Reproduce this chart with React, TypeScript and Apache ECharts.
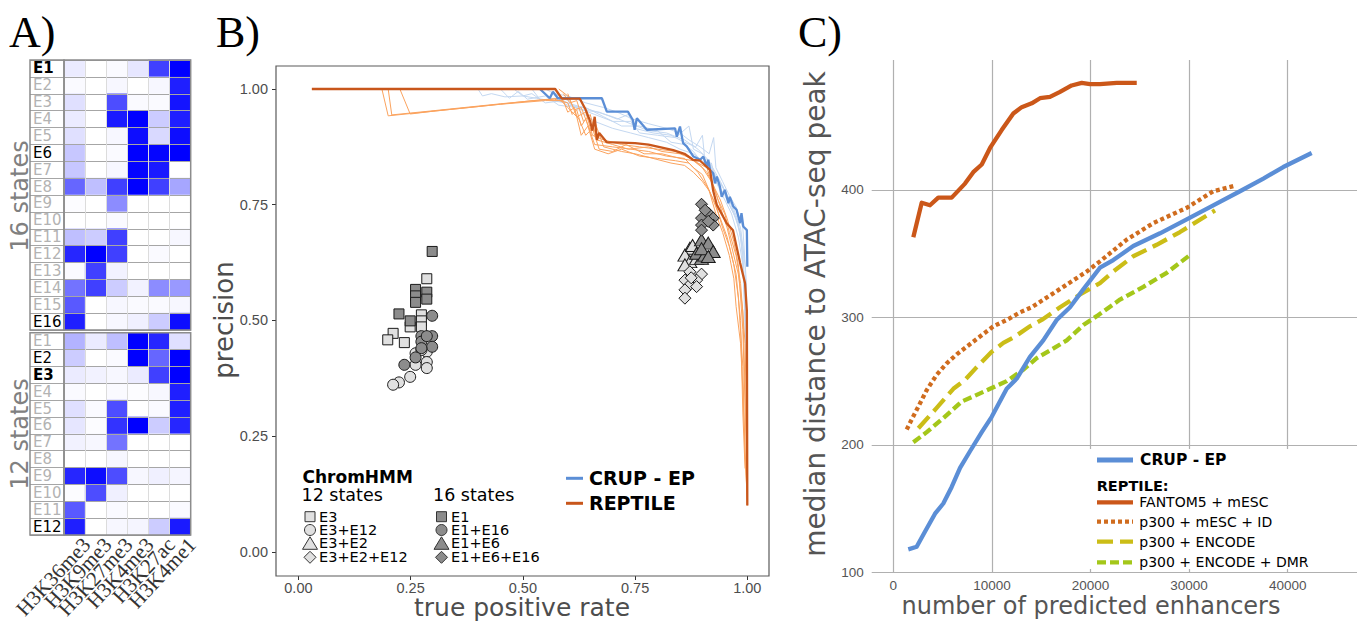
import React, { useEffect, useRef } from "react";
import * as echarts from "echarts";

// ---------------- Panel A data ----------------
const marks = ["H3K36me3", "H3K9me3", "H3K27me3", "H3K4me3", "H3K27ac", "H3K4me1"];
const states16 = ["E1","E2","E3","E4","E5","E6","E7","E8","E9","E10","E11","E12","E13","E14","E15","E16"];
const states12 = ["E1","E2","E3","E4","E5","E6","E7","E8","E9","E10","E11","E12"];
const emission16 = [
  [0.08, 0.0, 0.02, 0.1, 0.75, 1.0],
  [0.02, 0.0, 0.03, 0.0, 0.03, 0.88],
  [0.12, 0.0, 0.7, 0.02, 0.02, 0.92],
  [0.08, 0.0, 0.9, 1.0, 0.2, 0.88],
  [0.12, 0.0, 0.03, 0.95, 0.15, 0.95],
  [0.22, 0.0, 0.02, 1.0, 0.98, 1.0],
  [0.22, 0.0, 0.03, 0.98, 0.9, 0.0],
  [0.6, 0.25, 0.75, 1.0, 0.75, 0.35],
  [0.01, 0.0, 0.45, 0.0, 0.0, 0.0],
  [0.0, 0.0, 0.02, 0.0, 0.0, 0.0],
  [0.25, 0.2, 0.75, 0.0, 0.0, 0.03],
  [0.85, 1.0, 0.75, 0.0, 0.02, 0.0],
  [0.02, 0.75, 0.05, 0.0, 0.0, 0.0],
  [0.55, 0.75, 0.2, 0.05, 0.45, 0.4],
  [0.65, 0.0, 0.03, 0.02, 0.02, 0.03],
  [0.88, 0.0, 0.03, 0.06, 0.2, 0.95],
];
const emission12 = [
  [0.3, 0.08, 0.25, 1.0, 0.85, 0.12],
  [0.2, 0.0, 0.02, 1.0, 0.6, 1.0],
  [0.08, 0.05, 0.03, 0.08, 0.75, 1.0],
  [0.02, 0.0, 0.02, 0.01, 0.03, 0.88],
  [0.12, 0.02, 0.7, 0.0, 0.02, 0.88],
  [0.1, 0.01, 0.8, 1.0, 0.2, 0.85],
  [0.05, 0.03, 0.55, 0.0, 0.0, 0.0],
  [0.0, 0.0, 0.03, 0.0, 0.0, 0.0],
  [0.85, 0.95, 0.7, 0.03, 0.06, 0.04],
  [0.01, 0.7, 0.06, 0.0, 0.0, 0.0],
  [0.65, 0.0, 0.02, 0.0, 0.0, 0.02],
  [0.88, 0.0, 0.03, 0.04, 0.2, 0.9],
];
const emph16: Record<string, string> = { E1: "b", E6: "k", E16: "k" };
const emph12: Record<string, string> = { E3: "b", E2: "k", E12: "k" };

// ---------------- Panel B data ----------------
const bTicks = [0, 0.25, 0.5, 0.75, 1];
const crupMain = [[0.538,1.0],[0.56,0.98],[0.567,0.994],[0.578,0.98],[0.676,0.98],[0.687,0.951],[0.734,0.951],[0.745,0.933],[0.749,0.912],[0.754,0.937],[0.776,0.912],[0.839,0.915],[0.843,0.897],[0.85,0.919],[0.857,0.883],[0.865,0.876],[0.88,0.854],[0.895,0.847],[0.902,0.854],[0.91,0.832],[0.913,0.847],[0.917,0.825],[0.924,0.818],[0.928,0.796],[0.932,0.811],[0.939,0.789],[0.943,0.767],[0.95,0.782],[0.958,0.753],[0.961,0.767],[0.969,0.746],[0.976,0.739],[0.984,0.71],[0.987,0.732],[0.991,0.703],[0.999,0.695],[1.0,0.616]];
const reptileMain = [[0.03,1.0],[0.572,1.0],[0.587,0.979],[0.627,0.979],[0.64,0.955],[0.65,0.93],[0.655,0.91],[0.66,0.94],[0.665,0.89],[0.67,0.905],[0.687,0.885],[0.75,0.883],[0.78,0.88],[0.835,0.868],[0.86,0.86],[0.879,0.847],[0.895,0.845],[0.917,0.825],[0.924,0.78],[0.932,0.75],[0.954,0.71],[0.968,0.695],[0.984,0.624],[0.995,0.58],[0.999,0.52],[1.0,0.1]];
const crupRuns = [
  [[0.40,1.0],[0.41,0.985],[0.43,0.99],[0.46,0.983],[0.50,0.985],[0.53,0.98],[0.56,0.975],[0.60,0.97],[0.65,0.955],[0.70,0.94],[0.74,0.925],[0.78,0.91],[0.82,0.905],[0.86,0.89],[0.89,0.87],[0.91,0.85],[0.93,0.81],[0.95,0.78],[0.97,0.74],[0.985,0.70],[0.995,0.62],[0.998,0.40],[1.0,0.22]],
  [[0.45,1.0],[0.47,0.98],[0.49,0.995],[0.51,0.978],[0.55,0.985],[0.58,0.965],[0.62,0.96],[0.66,0.945],[0.70,0.93],[0.74,0.93],[0.76,0.905],[0.80,0.90],[0.84,0.895],[0.87,0.92],[0.88,0.87],[0.90,0.86],[0.92,0.835],[0.94,0.80],[0.96,0.76],[0.975,0.72],[0.99,0.66],[1.0,0.30]],
  [[0.48,1.0],[0.50,0.985],[0.52,0.99],[0.55,0.97],[0.59,0.975],[0.63,0.955],[0.67,0.95],[0.71,0.935],[0.735,0.945],[0.75,0.915],[0.79,0.905],[0.83,0.90],[0.86,0.885],[0.885,0.875],[0.90,0.90],[0.905,0.85],[0.925,0.82],[0.945,0.79],[0.96,0.75],[0.98,0.71],[0.99,0.64],[0.997,0.50],[1.0,0.26]],
  [[0.52,1.0],[0.54,0.975],[0.57,0.98],[0.60,0.965],[0.64,0.96],[0.68,0.94],[0.72,0.92],[0.76,0.92],[0.80,0.91],[0.83,0.885],[0.86,0.88],[0.88,0.865],[0.90,0.84],[0.92,0.84],[0.93,0.80],[0.95,0.77],[0.97,0.73],[0.985,0.69],[0.995,0.55],[1.0,0.24]],
  [[0.55,1.0],[0.57,0.99],[0.60,0.985],[0.64,0.97],[0.68,0.96],[0.71,0.95],[0.745,0.935],[0.78,0.925],[0.82,0.915],[0.85,0.905],[0.87,0.89],[0.895,0.875],[0.915,0.86],[0.925,0.895],[0.93,0.83],[0.945,0.80],[0.96,0.77],[0.975,0.745],[0.99,0.70],[0.998,0.58],[1.0,0.35]],
  [[0.57,0.99],[0.60,0.975],[0.63,0.95],[0.66,0.93],[0.70,0.915],[0.74,0.905],[0.78,0.895],[0.82,0.885],[0.85,0.87],[0.88,0.86],[0.90,0.845],[0.92,0.82],[0.935,0.79],[0.95,0.76],[0.965,0.73],[0.98,0.68],[0.99,0.62],[1.0,0.40]],
];
const reptileRuns = [
  [[0.03,1.0],[0.186,1.0],[0.20,0.942],[0.30,0.952],[0.40,0.962],[0.523,0.975],[0.57,0.978],[0.60,0.97],[0.61,0.945],[0.62,0.955],[0.63,0.92],[0.64,0.935],[0.66,0.88],[0.70,0.875],[0.74,0.87],[0.78,0.865],[0.82,0.855],[0.86,0.85],[0.88,0.83],[0.90,0.815],[0.92,0.77],[0.94,0.72],[0.955,0.68],[0.97,0.62],[0.98,0.55],[0.99,0.40],[0.995,0.20],[1.0,0.12]],
  [[0.226,1.0],[0.249,0.946],[0.30,0.952],[0.45,0.967],[0.55,0.975],[0.59,0.975],[0.60,0.95],[0.615,0.96],[0.63,0.90],[0.645,0.92],[0.66,0.87],[0.69,0.86],[0.72,0.87],[0.76,0.855],[0.80,0.85],[0.84,0.845],[0.87,0.84],[0.89,0.82],[0.91,0.79],[0.93,0.75],[0.945,0.70],[0.96,0.66],[0.975,0.60],[0.985,0.50],[0.99,0.30],[0.995,0.18]],
  [[0.20,1.0],[0.208,0.944],[0.30,0.953],[0.45,0.968],[0.58,0.98],[0.60,0.96],[0.625,0.935],[0.64,0.90],[0.655,0.915],[0.67,0.87],[0.70,0.865],[0.73,0.88],[0.77,0.86],[0.81,0.86],[0.85,0.85],[0.88,0.845],[0.90,0.83],[0.92,0.80],[0.94,0.76],[0.955,0.72],[0.97,0.67],[0.98,0.62],[0.99,0.48],[0.997,0.25],[1.0,0.15]],
  [[0.58,1.0],[0.60,0.985],[0.615,0.955],[0.63,0.96],[0.65,0.91],[0.66,0.93],[0.68,0.875],[0.72,0.865],[0.75,0.86],[0.79,0.85],[0.83,0.84],[0.86,0.835],[0.88,0.82],[0.90,0.80],[0.915,0.78],[0.93,0.73],[0.945,0.69],[0.96,0.64],[0.97,0.59],[0.975,0.53],[0.985,0.45],[0.99,0.35],[1.0,0.10]],
  [[0.59,0.99],[0.605,0.97],[0.62,0.975],[0.635,0.93],[0.65,0.945],[0.665,0.89],[0.70,0.88],[0.735,0.87],[0.78,0.875],[0.81,0.865],[0.85,0.86],[0.875,0.85],[0.895,0.835],[0.91,0.82],[0.925,0.79],[0.94,0.745],[0.955,0.70],[0.965,0.66],[0.98,0.60],[0.99,0.52],[0.995,0.35],[1.0,0.13]],
  [[0.60,0.99],[0.62,0.94],[0.64,0.95],[0.655,0.90],[0.68,0.89],[0.72,0.88],[0.76,0.875],[0.80,0.87],[0.84,0.865],[0.87,0.855],[0.89,0.84],[0.91,0.83],[0.92,0.80],[0.935,0.76],[0.95,0.73],[0.96,0.69],[0.975,0.64],[0.985,0.58],[0.995,0.45],[1.0,0.20]],
];
const e3_12 = [[0.286,0.590],[0.274,0.512],[0.274,0.499],[0.274,0.486],[0.249,0.486],[0.211,0.472],[0.199,0.458],[0.236,0.452]];
const e1_16 = [[0.298,0.649],[0.261,0.567],[0.261,0.553],[0.261,0.539],[0.286,0.561],[0.286,0.546],[0.224,0.514],[0.249,0.499]];
const e3e12_12 = [[0.261,0.429],[0.286,0.432],[0.261,0.404],[0.286,0.410],[0.286,0.397],[0.249,0.378],[0.224,0.366],[0.211,0.361],[0.274,0.436]];
const e1e16_16 = [[0.298,0.510],[0.274,0.466],[0.298,0.466],[0.274,0.454],[0.298,0.443],[0.274,0.440],[0.261,0.420],[0.236,0.404],[0.286,0.466]];
const e3e2_12 = [[0.872,0.656],[0.861,0.641],[0.872,0.627],[0.861,0.620],[0.887,0.634],[0.878,0.662]];
const e1e6_16 = [[0.898,0.674],[0.913,0.667],[0.924,0.649],[0.898,0.634],[0.887,0.645],[0.905,0.641],[0.898,0.655],[0.913,0.638]];
const e3e2e12_12 = [[0.872,0.605],[0.898,0.600],[0.861,0.587],[0.887,0.587],[0.872,0.577],[0.861,0.566],[0.887,0.573],[0.861,0.548],[0.875,0.592]];
const e1e6e16_16 = [[0.898,0.751],[0.913,0.732],[0.898,0.721],[0.924,0.721],[0.898,0.706],[0.924,0.706],[0.898,0.695],[0.906,0.738],[0.913,0.714]];
const legend12 = ["E3", "E3+E12", "E3+E2", "E3+E2+E12"];
const legend16 = ["E1", "E1+E16", "E1+E6", "E1+E6+E16"];

// ---------------- Panel C data ----------------
const cXTicks = [0, 10000, 20000, 30000, 40000];
const cYTicks = [100, 200, 300, 400];
const cCrup = [[1520,118],[2370,120],[3220,132],[4230,146],[5070,154],[5920,167],[6770,182],[7780,195],[8970,210],[9980,222],[11500,244],[12520,252],[13860,269],[15210,282],[16570,298],[17920,308],[19270,322],[20960,339],[22310,345],[24340,356],[27050,366],[29760,377],[32450,388],[35160,399],[37530,409],[39550,418],[42430,429]];
const cFantom = [[2030,363],[2880,390],[3720,388],[4560,394],[5920,394],[7270,405],[8110,414],[8970,420],[9810,433],[10990,447],[12170,460],[13020,465],[14040,468],[14880,472],[15890,473],[16910,477],[18090,482],[19110,484],[19950,483],[20960,483],[22660,484],[24690,484]];
const cP300Mesc = [[1360,212],[1870,220],[2540,230],[3390,243],[4400,255],[5420,264],[6430,271],[7440,277],[8790,285],[10140,293],[11500,298],[12850,304],[14040,308],[17240,324],[19620,336],[20960,344],[23670,361],[26370,374],[29760,386],[32450,399],[34480,403]];
const cP300Encode = [[2540,213],[4400,229],[6090,244],[7270,251],[8460,261],[9980,273],[11160,280],[12340,285],[13860,293],[15050,298],[16910,308],[18940,318],[20960,327],[22310,336],[24340,348],[26710,357],[29080,367],[32630,384]];
const cP300EncodeDmr = [[2030,202],[3390,210],[5070,221],[6940,234],[8110,238],[9810,244],[11500,250],[13190,259],[14540,268],[15890,274],[17590,282],[19270,294],[20630,301],[22990,314],[25360,324],[27730,335],[30260,350]];
const reptileNames = ["FANTOM5 + mESC", "p300 + mESC + ID", "p300 + ENCODE", "p300 + ENCODE + DMR"];

// ---------------- styles ----------------
const SANS = '"DejaVu Sans", Verdana, sans-serif';
const SERIF = '"Liberation Serif", "DejaVu Serif", serif';
const ARIAL = '"Liberation Sans", Arial, sans-serif';
const BLUE = "#5b8ed6";
const ORANGE = "#c8561b";
const LIGHTBLUE = "#c4d8f1";
const LIGHTORANGE = "#fba35e";
const LIGHTGRAY = "#e0e0e0";
const DARKGRAY = "#8c8c8c";
const shapes = ["rect", "circle", "triangle", "diamond"];
const shapeSize: any = { rect: 10, circle: 11, triangle: [14, 12], diamond: [12, 12] };
const cStyles = [
  { color: "#cb5719", type: "solid" as any },
  { color: "#d06c1e", type: [4, 3] as any },
  { color: "#cbbd17", type: [16, 7] as any },
  { color: "#a4c71a", type: [9, 4] as any },
];

function cells(m: number[][]) {
  const out: number[][] = [];
  m.forEach((row, r) => row.forEach((v, c) => out.push([c, r, v])));
  return out;
}

function stateAxis(grid: number, states: string[], emph: Record<string, string>) {
  const rich: any = {
    b: { fontWeight: "bold", color: "#000", fontSize: 15, fontFamily: SANS },
    k: { color: "#000", fontSize: 15, fontFamily: SANS },
    g: { color: "#b3b3b3", fontSize: 15, fontFamily: SANS },
  };
  return {
    gridIndex: grid, type: "category", data: states, inverse: true,
    axisLine: { show: false }, axisTick: { show: false },
    axisLabel: { inside: true, interval: 0, margin: 3, formatter: (v: string) => `{${emph[v] || "g"}|${v}}`, rich },
    splitLine: { show: true, interval: 0, lineStyle: { color: "#a6a6a6", width: 1 } },
    z: 4,
  };
}

function buildOption(): any {
  const boxGrid = (left: number, top: number, width: number, height: number) => ({
    left, top, width, height, show: true, borderColor: "#8c8c8c", borderWidth: 1.5,
    backgroundColor: "transparent", z: 10, containLabel: false, outerBoundsMode: "none",
  });
  const grid = [
    boxGrid(30, 60, 34, 270),
    boxGrid(64, 60, 126.7, 270),
    boxGrid(30, 332.7, 34, 202.3),
    boxGrid(64, 332.7, 126.7, 202.3),
    { left: 276, top: 66, width: 493, height: 510, show: true, borderColor: "#5a5a5a", borderWidth: 1.2, backgroundColor: "transparent", z: 10, outerBoundsMode: "none" },
    { left: 871.7, top: 60, width: 485.3, height: 512.3, show: false, outerBoundsMode: "none" },
    // helper grid carrying the heatmap column labels, offset like ggplot's hjust
    { left: 76, top: 332.7, width: 126.7, height: 202.3, show: false, outerBoundsMode: "none" },
  ];
  const markAxisX = (grid: number) => ({
    gridIndex: grid, type: "category", data: marks,
    axisLine: { show: false }, axisTick: { show: false }, axisLabel: { show: false },
    splitLine: { show: true, interval: 0, lineStyle: { color: "#dcdcdc", width: 1 } },
    z: 4,
  });
  const hiddenY = (grid: number, states: string[]) => ({
    gridIndex: grid, type: "category", data: states, inverse: true,
    axisLine: { show: false }, axisTick: { show: false }, axisLabel: { show: false },
    splitLine: { show: true, interval: 0, lineStyle: { color: "#a6a6a6", width: 1 } },
    z: 4,
  });
  const noLine = { show: false, onZero: false };
  const bTickLabel = { customValues: bTicks, formatter: (v: number) => v.toFixed(2), fontFamily: ARIAL, fontSize: 14.5, color: "#4d4d4d", hideOverlap: false };
  const bTick = { show: true, customValues: bTicks, length: 4, lineStyle: { color: "#333" } };
  const xAxis = [
    { gridIndex: 0, type: "value", min: 0, max: 1, show: false },
    markAxisX(1),
    { gridIndex: 2, type: "value", min: 0, max: 1, show: false },
    markAxisX(3),
    {
      gridIndex: 4, type: "value", position: "bottom", min: -0.0499, max: 1.0483,
      axisLine: noLine, axisTick: bTick,
      splitLine: { show: false }, axisLabel: { ...bTickLabel, margin: 4 },
    },
    {
      gridIndex: 5, type: "value", position: "bottom", min: -2191, max: 47028,
      axisLine: noLine, axisTick: { show: false }, splitLine: { show: false },
      axisLabel: {
        showMinLabel: false, showMaxLabel: false, margin: 6,
        formatter: (v: number) => (cXTicks.indexOf(v) >= 0 ? String(v) : ""),
        fontFamily: ARIAL, fontSize: 13.5, color: "#555",
      },
    },
    {
      gridIndex: 6, type: "category", data: marks, position: "bottom",
      axisLine: { show: false }, axisTick: { show: false }, splitLine: { show: false },
      axisLabel: { show: true, interval: 0, rotate: 47, margin: 6, fontFamily: SERIF, fontSize: 21, color: "#333" },
    },
  ];
  const yAxis = [
    stateAxis(0, states16, emph16),
    hiddenY(1, states16),
    stateAxis(2, states12, emph12),
    hiddenY(3, states12),
    {
      gridIndex: 4, type: "value", position: "left", min: -0.0523, max: 1.0497,
      axisLine: noLine, axisTick: bTick,
      splitLine: { show: false }, axisLabel: { ...bTickLabel, margin: 8 },
    },
    {
      gridIndex: 5, type: "value", position: "left", min: 100, max: 502, interval: 100,
      axisLine: noLine, axisTick: { show: false }, splitLine: { show: false },
      axisLabel: {
        showMaxLabel: false, margin: 8,
        formatter: (v: number) => (cYTicks.indexOf(v) >= 0 ? String(v) : ""),
        fontFamily: ARIAL, fontSize: 13.5, color: "#555",
      },
    },
    { gridIndex: 6, type: "value", min: 0, max: 1, show: false },
  ];

  const series: any[] = [
    { type: "heatmap", xAxisIndex: 1, yAxisIndex: 1, data: cells(emission16), z: 2 },
    { type: "heatmap", xAxisIndex: 3, yAxisIndex: 3, data: cells(emission12), z: 2 },
  ];
  const bLine = (data: number[][], color: string, width: number, z: number) => ({
    type: "line", xAxisIndex: 4, yAxisIndex: 4, data, symbol: "none", showSymbol: false,
    clip: false, lineStyle: { color, width }, z, silent: true,
  });
  crupRuns.forEach((d) => series.push(bLine(d, LIGHTBLUE, 1, 2)));
  reptileRuns.forEach((d) => series.push(bLine(d, LIGHTORANGE, 1, 2)));
  series.push(bLine(crupMain, BLUE, 2.3, 3));
  series.push(bLine(reptileMain, ORANGE, 2.3, 3));
  const groups = [
    [e3_12, 0, LIGHTGRAY], [e1_16, 0, DARKGRAY],
    [e3e12_12, 1, LIGHTGRAY], [e1e16_16, 1, DARKGRAY],
    [e3e2_12, 2, LIGHTGRAY], [e3e2e12_12, 3, LIGHTGRAY],
    [e1e6_16, 2, DARKGRAY], [e1e6e16_16, 3, DARKGRAY],
  ] as any[];
  groups.forEach(([data, si, fill]) => {
    const s = shapes[si];
    series.push({
      type: "scatter", xAxisIndex: 4, yAxisIndex: 4, data, symbol: s, symbolSize: shapeSize[s],
      itemStyle: { color: fill, borderColor: "#1a1a1a", borderWidth: 1, opacity: 1 }, z: 5, clip: false, silent: true,
    });
  });

  // Panel C grid lines through the library scales
  series.push({
    type: "line", xAxisIndex: 5, yAxisIndex: 5, data: [], silent: true,
    markLine: {
      silent: true, symbol: ["none", "none"], label: { show: false }, z: 1, animation: false,
      lineStyle: { color: "#b0b0b0", width: 1.2, type: "solid" },
      data: [...cXTicks.map((v) => ({ xAxis: v })), ...cYTicks.map((v) => ({ yAxis: v }))],
    },
  });
  const cLine = (data: number[][], color: string, type: any) => ({
    type: "line", xAxisIndex: 5, yAxisIndex: 5, data, symbol: "none", showSymbol: false, clip: false, silent: true,
    lineStyle: { color, width: 4.3, type, cap: "butt", join: "round" }, z: 3,
  });
  series.push(cLine(cP300EncodeDmr, cStyles[3].color, cStyles[3].type));
  series.push(cLine(cP300Encode, cStyles[2].color, cStyles[2].type));
  series.push(cLine(cP300Mesc, cStyles[1].color, cStyles[1].type));
  series.push(cLine(cCrup, BLUE, "solid"));
  series.push(cLine(cFantom, cStyles[0].color, cStyles[0].type));

  // ---------------- graphic (labels, titles, legends) ----------------
  const T = (x: number, y: number, text: string, font: string, fill = "#000", align = "left", rotation = 0) => ({
    type: "text", x, y, rotation, z: 100, silent: true,
    style: { text, font, fill, align, verticalAlign: "middle" },
  });
  const el: any[] = [];
  el.push(T(9, 32, "A)", `44px ${SERIF}`));
  el.push(T(216, 32, "B)", `44px ${SERIF}`));
  el.push(T(798, 32, "C)", `44px ${SERIF}`));
  el.push(T(20, 196, "16 states", `24px ${SANS}`, "#808080", "center", Math.PI / 2));
  el.push(T(20, 434, "12 states", `24px ${SANS}`, "#808080", "center", Math.PI / 2));
  el.push(T(224, 320, "precision", `26px ${SANS}`, "#4d4d4d", "center", Math.PI / 2));
  el.push(T(522, 607, "true positive rate", `25px ${SANS}`, "#4d4d4d", "center"));
  el.push(T(815, 314, "median distance to ATAC-seq peak", `28px ${SANS}`, "#555", "center", Math.PI / 2));
  el.push(T(1091, 606, "number of predicted enhancers", `24px ${SANS}`, "#555", "center"));

  // Panel B ChromHMM legend
  el.push(T(302.5, 476.5, "ChromHMM", `bold 17px ${SANS}`, "#000"));
  el.push(T(301.5, 495, "12 states", `17.5px ${SANS}`, "#000"));
  el.push(T(433, 495, "16 states", `17.5px ${SANS}`, "#000"));
  const rows = [516.7, 530, 543.3, 557.3];
  const sym = (shape: string, cx: number, cy: number, fill: string) => {
    const style = { fill, stroke: "#333", lineWidth: 1 };
    if (shape === "rect") return { type: "rect", z: 100, shape: { x: cx - 5, y: cy - 5, width: 10, height: 10 }, style };
    if (shape === "circle") return { type: "circle", z: 100, shape: { cx, cy, r: 5.5 }, style };
    if (shape === "triangle") return { type: "polygon", z: 100, shape: { points: [[cx, cy - 6.5], [cx + 7.5, cy + 6], [cx - 7.5, cy + 6]] }, style };
    return { type: "polygon", z: 100, shape: { points: [[cx, cy - 6], [cx + 6, cy], [cx, cy + 6], [cx - 6, cy]] }, style };
  };
  legend12.forEach((name, i) => {
    el.push(sym(shapes[i], 310, rows[i], LIGHTGRAY));
    el.push(T(319, rows[i], name, `14.5px ${SANS}`, "#000"));
  });
  legend16.forEach((name, i) => {
    el.push(sym(shapes[i], 441.5, rows[i], DARKGRAY));
    el.push(T(451, rows[i], name, `14.5px ${SANS}`, "#000"));
  });
  el.push({ type: "line", z: 100, shape: { x1: 566, y1: 478.3, x2: 583, y2: 478.3 }, style: { stroke: BLUE, lineWidth: 3 } });
  el.push({ type: "line", z: 100, shape: { x1: 566, y1: 503.3, x2: 583, y2: 503.3 }, style: { stroke: ORANGE, lineWidth: 3 } });
  el.push(T(589, 478.3, "CRUP - EP", `bold 19px ${SANS}`, "#000"));
  el.push(T(589, 503.3, "REPTILE", `bold 19px ${SANS}`, "#000"));

  // Panel C legend
  el.push({ type: "rect", z: 90, shape: { x: 1086, y: 449, width: 262, height: 120 }, style: { fill: "#fff", stroke: "none" } });
  el.push({ type: "line", z: 100, shape: { x1: 1097, y1: 460, x2: 1133, y2: 460 }, style: { stroke: BLUE, lineWidth: 5 } });
  el.push(T(1140, 460, "CRUP - EP", `bold 15.5px ${SANS}`, "#000"));
  el.push(T(1096.7, 485.7, "REPTILE:", `bold 14.5px ${SANS}`, "#000"));
  const cRows = [502.3, 521.7, 541.7, 562.3];
  reptileNames.forEach((name, i) => {
    const st = cStyles[i];
    el.push({
      type: "line", z: 100, shape: { x1: 1097, y1: cRows[i], x2: 1133, y2: cRows[i] },
      style: { stroke: st.color, lineWidth: 4.3, lineDash: st.type === "solid" ? null : st.type },
    });
    el.push(T(1139.3, cRows[i], name, `14px ${SANS}`, "#000"));
  });

  return {
    animation: false,
    backgroundColor: "#ffffff",
    grid,
    xAxis,
    yAxis,
    visualMap: [{ type: "continuous", show: false, min: 0, max: 1, dimension: 2, seriesIndex: [0, 1], inRange: { color: ["#ffffff", "#0000ff"] } }],
    series,
    graphic: { elements: el },
  };
}

export default function App() {
  const ref = useRef<HTMLDivElement>(null);
  useEffect(() => {
    if (!ref.current) return;
    const chart = echarts.init(ref.current, null, { renderer: "svg" });
    chart.setOption(buildOption());
    return () => chart.dispose();
  }, []);
  return (
    <div
      ref={ref}
      style={{ position: "fixed", left: 0, top: 0, width: 1357, height: 621, background: "#fff" }}
    />
  );
}
